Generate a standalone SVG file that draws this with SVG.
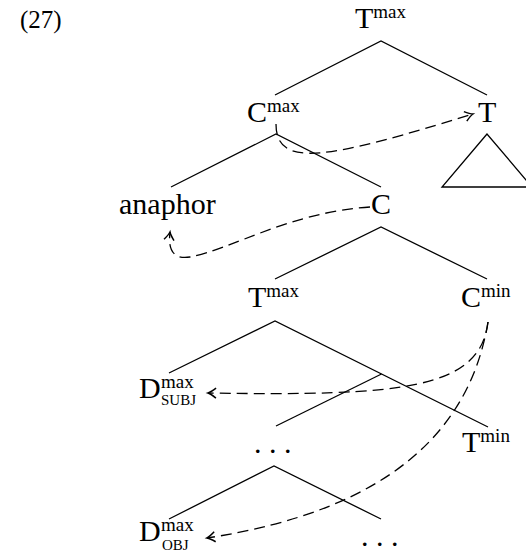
<svg xmlns="http://www.w3.org/2000/svg" width="526" height="554" viewBox="0 0 526 554">
<style>
.t{font-family:"Liberation Serif","DejaVu Serif",serif;font-size:30px;fill:#000}
.n{font-family:"Liberation Serif","DejaVu Serif",serif;font-size:25px;fill:#000}
.s{font-family:"Liberation Serif","DejaVu Serif",serif;font-size:19px;fill:#000}
.sc{font-family:"Liberation Serif","DejaVu Serif",serif;font-size:15px;fill:#000}
.e{stroke:#000;stroke-width:1.3;fill:none}
.d{stroke:#000;stroke-width:1.3;fill:none;stroke-dasharray:11 6}
</style>
<defs>
<marker id="ah" markerUnits="userSpaceOnUse" markerWidth="16" markerHeight="16" viewBox="-9 -8 11 16" refX="0" refY="0" orient="auto">
<path d="M-8,-5 Q-3,-1 0,0 Q-3,1 -8,5" fill="none" stroke="#000" stroke-width="1.5"/>
</marker>
</defs>
<rect width="526" height="554" fill="#fff"/>
<text class="n" x="20" y="28">(27)</text>
<g id="n-tmax-top"><text class="t" x="355" y="28">T<tspan class="s" dy="-10">max</tspan></text></g>
<g id="n-cmax"><text class="t" x="247" y="122">C<tspan class="s" dy="-10">max</tspan></text></g>
<g id="n-t"><text class="t" x="478" y="122">T</text></g>
<g id="n-triangle"><path class="e" d="M487,134 L442,187 L532,187 Z"/></g>
<g id="n-anaphor"><text class="t" x="119" y="214">anaphor</text></g>
<g id="n-c"><text class="t" x="371" y="214">C</text></g>
<g id="n-tmax2"><text class="t" x="248" y="307">T<tspan class="s" dy="-10">max</tspan></text></g>
<g id="n-cmin"><text class="t" x="461" y="307">C<tspan class="s" dy="-10">min</tspan></text></g>
<g id="n-dsubj"><text class="t" x="139" y="398">D</text><text class="s" x="161" y="388">max</text><text class="sc" x="161" y="405">SUBJ</text></g>
<g id="n-tmin"><text class="t" x="462" y="452">T<tspan class="s" dy="-10">min</tspan></text></g>
<g id="n-dots1"><text class="t" x="254 269 284" y="453">...</text></g>
<g id="n-dobj"><text class="t" x="139" y="541">D</text><text class="s" x="161" y="531">max</text><text class="sc" x="162" y="550">OBJ</text></g>
<g id="n-dots2"><text class="t" x="361 376 391" y="546">...</text></g>
<g id="edges">
<path class="e" d="M275,95 L381,41 L487,95"/>
<path class="e" d="M171,187 L276,134 L381,187"/>
<path class="e" d="M275,279 L381,227 L487,279"/>
<path class="e" d="M169,373 L275,321 L488,427"/>
<path class="e" d="M381.5,374 L276,426"/>
<path class="e" d="M169,519 L274,466 L381,519"/>
</g>
<g id="connectors">
<path class="d" d="M276,124 C276,170 330,158 473,114" marker-end="url(#ah)"/>
<path class="d" d="M370,207 C290,212 230,250 190,257 C172,260 168,248 170,232" marker-end="url(#ah)"/>
<path class="d" d="M488,322 C480,390 400,396 208,393" marker-end="url(#ah)"/>
<path class="d" d="M488,322 C470,430 390,510 207,538" marker-end="url(#ah)"/>
</g>
</svg>
